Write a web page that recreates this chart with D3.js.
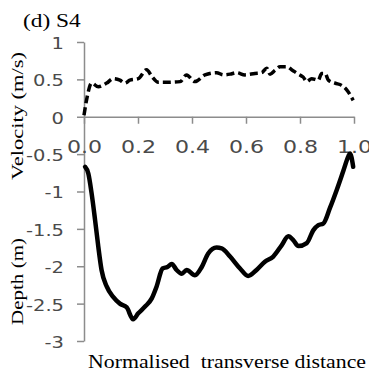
<!DOCTYPE html>
<html>
<head>
<meta charset="utf-8">
<script src="https://cdn.jsdelivr.net/npm/d3@7"></script>
<style>
  html, body { margin: 0; padding: 0; background: #fff; }
  svg { display: block; }
</style>
</head>
<body>
<svg class="canvas" width="369" height="375"></svg>
<script>
'use strict';

// Values.
// Normalised transverse distance for the velocity profile.
const velDist = [0, 0.012, 0.028, 0.053, 0.084, 0.108, 0.133, 0.152, 0.17, 0.201,
  0.232, 0.251, 0.275, 0.306, 0.356, 0.38, 0.411, 0.448, 0.491, 0.516, 0.541,
  0.565, 0.596, 0.633, 0.658, 0.677, 0.689, 0.707, 0.726, 0.751, 0.769, 0.794,
  0.812, 0.825, 0.843, 0.868, 0.88, 0.893, 0.905, 0.93, 0.954, 0.973, 0.997];
const velocity = [0.02, 0.27, 0.45, 0.4, 0.45, 0.51, 0.49, 0.45, 0.49, 0.51,
  0.63, 0.54, 0.46, 0.46, 0.47, 0.56, 0.47, 0.56, 0.59, 0.56, 0.57,
  0.59, 0.56, 0.58, 0.59, 0.65, 0.57, 0.62, 0.67, 0.67, 0.63, 0.57,
  0.53, 0.47, 0.51, 0.49, 0.58, 0.58, 0.49, 0.45, 0.42, 0.36, 0.22];

// Normalised transverse distance for the bed profile.
const depthDist = [0.004, 0.016, 0.028, 0.041, 0.053, 0.065, 0.084, 0.108, 0.133,
  0.158, 0.182, 0.201, 0.226, 0.251, 0.269, 0.291, 0.309, 0.325, 0.343, 0.362,
  0.38, 0.411, 0.436, 0.46, 0.491, 0.51, 0.541, 0.578, 0.608, 0.639, 0.67,
  0.701, 0.732, 0.757, 0.775, 0.794, 0.825, 0.849, 0.868, 0.886, 0.911, 0.936,
  0.96, 0.979, 0.985, 0.997];
const depth = [-0.67, -0.76, -1.02, -1.38, -1.74, -2.05, -2.27, -2.41, -2.5,
  -2.55, -2.71, -2.63, -2.54, -2.43, -2.27, -2.03, -2.01, -1.97, -2.05, -2.1,
  -2.05, -2.12, -2.01, -1.83, -1.75, -1.76, -1.87, -2.03, -2.13, -2.05, -1.94,
  -1.87, -1.72, -1.6, -1.65, -1.73, -1.69, -1.52, -1.45, -1.43, -1.22, -0.98,
  -0.73, -0.53, -0.49, -0.67];

const xTicks = [0, 0.2, 0.4, 0.6, 0.8, 1.0];
const yTicks = [1, 0.5, 0, -0.5, -1, -1.5, -2, -2.5, -3];

const title = '(d) S4';
const xTitle = 'Normalised  transverse distance';
const velTitle = 'Velocity (m/s)';
const depthTitle = 'Depth (m)';

// The picture is stretched sideways, so the text gets the same stretch.
const stretch = 1.3;
const axisGrey = '#8c8c8c';
const labelGrey = '#4a4a4a';

const svg = d3.select('.canvas');

const xScale = d3.scaleLinear().domain([0, 1]).range([84, 354]);
const yScale = d3.scaleLinear().domain([-3, 1]).range([341, 42]);

// Y axis (plain hyphen for the minus, like the original)
const yAxis = d3.axisLeft(yScale).tickValues(yTicks).tickSize(7).tickSizeOuter(0)
  .tickFormat(d => String(d));
const gy = svg.append('g')
  .attr('transform', `translate(${xScale(0)},0)`)
  .call(yAxis);
gy.select('.domain').attr('stroke', axisGrey).attr('stroke-width', 1.5);
gy.selectAll('.tick line').attr('stroke', axisGrey).attr('stroke-width', 1.5);
gy.selectAll('.tick text')
  .attr('x', -20 / stretch)
  .attr('dy', '0.36em')
  .attr('transform', `translate(0,1) scale(${stretch},1)`)
  .attr('fill', labelGrey)
  .attr('font-family', '"DejaVu Sans", sans-serif')
  .attr('font-size', 15);

// X axis sits on velocity 0
const xAxis = d3.axisBottom(xScale).tickValues(xTicks).tickSize(7).tickSizeOuter(0)
  .tickFormat(d3.format('.1f'));
const gx = svg.append('g')
  .attr('transform', `translate(0,${yScale(0)})`)
  .call(xAxis);
gx.select('.domain').attr('stroke', axisGrey).attr('stroke-width', 1.5);
gx.selectAll('.tick line').attr('stroke', axisGrey).attr('stroke-width', 1.5);
gx.selectAll('.tick text')
  .attr('y', 36)
  .attr('dy', 0)
  .attr('transform', `scale(${stretch},1)`)
  .attr('fill', labelGrey)
  .attr('font-family', '"DejaVu Sans", sans-serif')
  .attr('font-size', 17);

// Lines
const velLine = d3.line()
  .x((d, i) => xScale(velDist[i]))
  .y(d => yScale(d))
  .curve(d3.curveMonotoneX);
svg.append('path')
  .attr('d', velLine(velocity))
  .attr('fill', 'none')
  .attr('stroke', '#000')
  .attr('stroke-width', 3.5)
  .attr('stroke-dasharray', '8,4');

const depthLine = d3.line()
  .x((d, i) => xScale(depthDist[i]))
  .y(d => yScale(d))
  .curve(d3.curveMonotoneX);
svg.append('path')
  .attr('d', depthLine(depth))
  .attr('fill', 'none')
  .attr('stroke', '#000')
  .attr('stroke-width', 4.5)
  .attr('stroke-linejoin', 'round')
  .attr('stroke-linecap', 'round');

// Titles
const serif = '"Liberation Serif", "Times New Roman", serif';
svg.append('text')
  .attr('transform', `translate(23,27) scale(${stretch},1)`)
  .attr('font-family', serif)
  .attr('font-size', 18)
  .text(title);

svg.append('text')
  .attr('x', 88)
  .attr('y', 368)
  .attr('textLength', 278)
  .attr('lengthAdjust', 'spacingAndGlyphs')
  .attr('font-family', serif)
  .attr('font-size', 19)
  .style('white-space', 'pre')
  .text(xTitle);

svg.append('text')
  .attr('transform', 'translate(23,180) rotate(-90)')
  .attr('textLength', 128)
  .attr('lengthAdjust', 'spacingAndGlyphs')
  .attr('font-family', serif)
  .attr('font-size', 17)
  .text(velTitle);

svg.append('text')
  .attr('transform', 'translate(23,325) rotate(-90)')
  .attr('textLength', 87)
  .attr('lengthAdjust', 'spacingAndGlyphs')
  .attr('font-family', serif)
  .attr('font-size', 17)
  .text(depthTitle);
</script>
</body>
</html>
